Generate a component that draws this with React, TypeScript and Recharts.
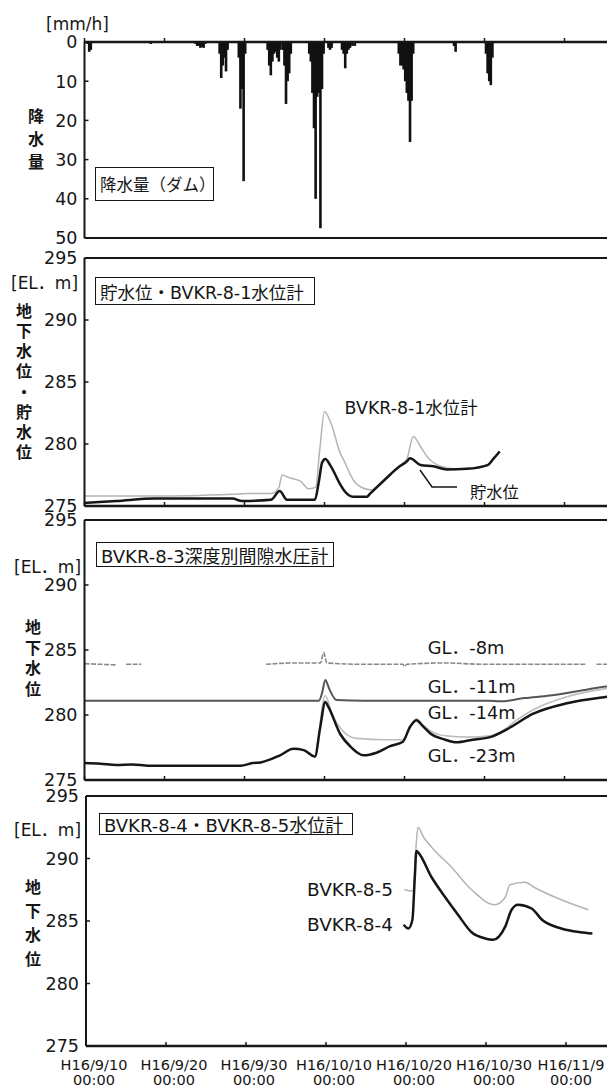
import React from 'react';
import { ComposedChart, Bar, Line, XAxis, YAxis, ReferenceLine } from 'recharts';

// ---------------- data ----------------
const xTickDays = [0, 10, 20, 30, 40, 50, 60];
const xTickDates = ['H16/9/10', 'H16/9/20', 'H16/9/30', 'H16/10/10', 'H16/10/20', 'H16/10/30', 'H16/11/9'];
const xTickTime = '00:00';
const rainTicks = [0, 10, 20, 30, 40, 50];
const levelTicks = [275, 280, 285, 290, 295];

// rainfall at the dam [mm/h], days after H16/9/10 00:00
const rainDays = [
  0.4, 0.6, 0.8,
  8.3,
  13.9, 14.1, 14.3, 14.5, 14.7, 14.9, 15.1,
  16.9, 17.1, 17.3, 17.5, 17.7, 17.9,
  19.3, 19.5, 19.7, 19.9, 20.1,
  22.9, 23.1, 23.3, 23.5, 23.7, 23.9, 24.1, 24.3, 24.5,
  24.8, 25.0, 25.2, 25.4, 25.6, 25.8,
  28.1, 28.3, 28.5, 28.7, 28.9, 29.1, 29.3, 29.5, 29.7, 29.9,
  30.5, 30.7, 30.9,
  32.2, 32.4, 32.6, 32.8, 33.0, 33.2, 33.5, 33.8,
  39.3, 39.5, 39.7, 39.9, 40.1, 40.3, 40.5, 40.7, 40.9, 41.1,
  46.2, 46.4,
  50.2, 50.4, 50.6, 50.8, 51.0,
];
const rainValues = [
  0.5, 2.5, 2.0,
  0.5,
  0.5, 1.0, 1.0, 1.5, 1.2, 1.5, 0.5,
  3, 9.2, 6, 4, 7.5, 2,
  4, 17, 12, 35.5, 3,
  2, 6, 8.5, 5, 3, 2.5, 4, 5, 2,
  2, 6, 15.8, 10, 8, 3,
  3, 5, 13, 22, 40, 14, 13, 47.5, 12, 3,
  1.5, 2, 1.5,
  2, 3, 6.7, 3, 2, 1.5, 1, 1,
  3, 6, 6, 7, 10, 13, 15, 25.5, 15, 3,
  1, 2.5,
  3, 8, 10, 11, 4,
];

// reservoir level (貯水位) [EL. m]
const resDays = [0, 4, 8.8, 14, 18.5, 19.7, 23.3, 24.4, 25.3, 28.8, 29.3, 29.7, 30.1, 30.8, 32.0, 32.4, 33.6, 35.3, 35.7, 37.5, 39.4, 40.3, 40.7, 42.0, 43.6, 45.3, 47.8, 50.4, 51.1, 51.9];
const resLevel = [275.25, 275.4, 275.6, 275.6, 275.6, 275.4, 275.5, 276.2, 275.5, 275.5, 277.0, 278.5, 278.8, 278.2, 276.7, 276.3, 275.75, 275.75, 276.0, 277.1, 278.2, 278.6, 278.85, 278.3, 278.2, 277.95, 278.0, 278.3, 278.8, 279.4];

// BVKR-8-1 water level gauge
const bv81Days = [0, 8.8, 18.5, 20.4, 23.3, 24.3, 24.7, 25.5, 27.0, 28.0, 28.9, 29.4, 30.0, 30.8, 32.0, 32.4, 33.6, 34.8, 35.9, 37.3, 39.3, 40.3, 41.1, 42.0, 42.8, 44.5, 46.1, 47.5, 50.4, 51.1, 51.9];
const bv81Level = [275.8, 275.8, 275.95, 276.0, 276.0, 276.5, 277.5, 277.3, 277.0, 276.4, 276.5, 279.5, 282.6, 281.7, 279.2, 278.7, 277.1, 276.45, 276.3, 277.0, 278.2, 278.8, 280.6, 279.8, 279.0, 278.2, 278.0, 278.0, 278.3, 278.8, 279.4];

// BVKR-8-3 piezometers by depth
const gl8Days = [0, 2, 4, 4.1, 5.2, 7.1, 7.2, 22.7, 26, 29.5, 29.9, 30.3, 35, 39.8, 40.0, 40.3, 45, 50, 55, 62.7, 62.8, 64, 69.5];
const gl8Level = [283.95, 283.9, 283.85, null, 283.9, 283.9, null, 283.9, 284.0, 284.0, 284.8, 284.0, 283.9, 283.9, 283.75, 283.9, 284.0, 283.9, 283.9, 283.9, null, 283.9, 283.9];

const gl11Days = [0, 29.3, 29.7, 30.1, 30.6, 31.5, 35, 45, 50.5, 52, 55, 58.2, 62.3, 65.3, 69.5];
const gl11Level = [281.1, 281.1, 281.7, 282.7, 282.0, 281.15, 281.1, 281.1, 281.1, 281.05, 281.3, 281.5, 281.9, 282.2, 282.3];

const gl14Days = [29.4, 30.1, 30.9, 32.4, 34.0, 37.8, 39.8, 40.7, 41.5, 42.2, 43.2, 45.1, 48.0, 50.7, 52.0, 54.0, 56.1, 60.3, 65.3, 69.5];
const gl14Level = [279.1, 281.5, 280.15, 278.7, 278.2, 278.1, 278.1, 279.1, 279.7, 279.3, 278.8, 278.4, 278.3, 278.4, 278.7, 279.6, 280.4, 281.4, 282.05, 282.3];

const gl23Days = [0, 2, 4, 6, 8, 12, 16, 19.5, 21, 22, 24.45, 26.1, 27.4, 28.8, 29.45, 30.1, 30.5, 32.0, 33.2, 34.9, 36.5, 38.2, 39.8, 40.7, 41.5, 42.2, 43.2, 45.1, 46.5, 48.5, 50.7, 52.8, 56.1, 60.3, 65.3, 69.5];
const gl23Level = [276.3, 276.25, 276.15, 276.2, 276.1, 276.1, 276.1, 276.1, 276.3, 276.35, 276.9, 277.4, 277.3, 276.8, 279.0, 281.0, 280.6, 278.5, 277.6, 276.9, 277.1, 277.6, 277.95, 279.1, 279.6, 279.2, 278.6, 278.1, 277.9, 278.1, 278.3, 278.9, 280.1, 280.9, 281.4, 281.7];

// BVKR-8-4 / BVKR-8-5 water level gauges
const bv84Days = [39.7, 40.3, 40.8, 41.1, 41.3, 41.5, 43.2, 44.9, 46.5, 48.2, 49.9, 50.9, 52.4, 53.2, 54.0, 55.7, 57.0, 59.4, 61.8, 63.3];
const bv84Level = [284.7, 284.4, 285.1, 288.5, 290.6, 290.5, 288.5, 286.9, 285.5, 284.1, 283.6, 283.5, 284.55, 285.9, 286.3, 286.0, 285.1, 284.4, 284.1, 284.0];

const bv85Days = [39.8, 40.9, 41.2, 41.5, 42.2, 43.2, 45.7, 48.2, 51.1, 52.4, 53.0, 54.9, 56.0, 59.4, 62.8];
const bv85Level = [287.5, 287.4, 290.5, 292.5, 291.7, 290.9, 289.3, 287.5, 286.3, 286.9, 287.9, 288.1, 287.7, 286.7, 285.9];

// ---------------- helpers ----------------
const zip = (days: number[], vals: (number | null)[]) => days.map((d, i) => ({ d, v: vals[i] }));
const rainData = zip(rainDays, rainValues);

const FONT = "'DejaVu Sans', 'Noto Sans CJK JP', sans-serif";
const INK = '#161616';
const W = 640;
const VIEW_W = 607;
const PX_PER_DAY = 8.0;

const renderXTick = (labels: boolean) => (props: any) => {
  const { x, y, payload } = props;
  const i = xTickDays.indexOf(payload.value);
  // keep the last label inside the visible page
  const lx = Math.min(x + 8, VIEW_W - 36);
  return (
    <g>
      <line x1={x} x2={x} y1={y} y2={y - 4} stroke={INK} strokeWidth={1.5} />
      {labels && (
        <text x={lx} y={y + 24} textAnchor="middle" fontSize={14.5} fontFamily={FONT} fill={INK}>
          {xTickDates[i]}
        </text>
      )}
      {labels && (
        <text x={lx} y={y + 38.5} textAnchor="middle" fontSize={14.5} fontFamily={FONT} fill={INK}>
          {xTickTime}
        </text>
      )}
    </g>
  );
};

const renderYTick = (props: any) => {
  const { x, y, payload } = props;
  return (
    <g>
      <line x1={x} x2={x + 4} y1={y} y2={y} stroke={INK} strokeWidth={1.5} />
      <text x={x - 7} y={y} dy="0.36em" textAnchor="end" fontSize={17.5} fontFamily={FONT} fill={INK}>
        {payload.value}
      </text>
    </g>
  );
};

// rain bar: centered on the scaled x position, fixed 2.6px wide
const RainBar = (props: any) => {
  const { x, y, width, height } = props;
  if (x == null || y == null) return null;
  const cx = x + width / 2;
  const top = Math.min(y, y + height);
  const h = Math.abs(height);
  return <rect x={cx - 1.3} y={top} width={2.6} height={h} fill="#111" />;
};

type PanelProps = {
  top: number;
  bottom: number;
  axisX: number;
  yDomain: [number, number];
  yTicks: number[];
  reversed?: boolean;
  xOnTop?: boolean;
  xLabels?: boolean;
  borderY: number;
  data?: any[];
  children?: React.ReactNode;
};

function Panel(p: PanelProps) {
  const MT = 14;
  const MB = p.xLabels ? 50 : 14;
  const AXH = 1;
  const h = p.bottom - p.top + MT + MB;
  const xMax = (W - p.axisX) / PX_PER_DAY;
  const margin = p.xOnTop
    ? { top: MT - AXH, right: 0, bottom: MB, left: 0 }
    : { top: MT, right: 0, bottom: MB - AXH, left: 0 };
  return (
    <div style={{ position: 'absolute', left: 0, top: p.top - MT }}>
      <ComposedChart width={W} height={h} data={p.data} margin={margin}>
        <XAxis
          type="number"
          dataKey="d"
          domain={[0, xMax]}
          ticks={xTickDays}
          interval={0}
          allowDataOverflow
          orientation={p.xOnTop ? 'top' : 'bottom'}
          height={AXH}
          axisLine={{ stroke: INK, strokeWidth: 2.5 }}
          tickLine={false}
          tickSize={0}
          tickMargin={0}
          tick={renderXTick(!!p.xLabels)}
        />
        <YAxis
          type="number"
          domain={p.yDomain}
          ticks={p.yTicks}
          interval={0}
          reversed={p.reversed}
          width={p.axisX}
          allowDataOverflow
          axisLine={{ stroke: INK, strokeWidth: 2 }}
          tickLine={false}
          tickSize={0}
          tickMargin={0}
          tick={renderYTick}
        />
        <ReferenceLine y={p.borderY} stroke={INK} strokeWidth={2} />
        {p.children}
      </ComposedChart>
    </div>
  );
}

const lineProps = { dataKey: 'v', dot: false, isAnimationActive: false, type: 'monotone' as const, connectNulls: false };

function VText({ chars, cx, cy0, step, size }: { chars: string; cx: number; cy0: number; step: number; size: number }) {
  return (
    <>
      {Array.from(chars).map((c, i) => (
        <div
          key={i}
          style={{
            position: 'absolute',
            left: cx - size / 2 - 2,
            top: cy0 + i * step - size / 2 - 2,
            width: size + 4,
            height: size + 4,
            lineHeight: `${size + 4}px`,
            textAlign: 'center',
            fontSize: size,
            fontFamily: FONT,
            fontWeight: 700,
            color: INK,
          }}
        >
          {c}
        </div>
      ))}
    </>
  );
}

function Label({ text, x, cy, size = 17, align = 'left' }: { text: string; x: number; cy: number; size?: number; align?: 'left' | 'right' }) {
  const w = 200;
  return (
    <div
      style={{
        position: 'absolute',
        left: align === 'left' ? x : x - w,
        width: w,
        top: cy - 11,
        height: 22,
        lineHeight: '22px',
        fontSize: size,
        fontFamily: FONT,
        color: INK,
        whiteSpace: 'nowrap',
        textAlign: align,
      }}
    >
      {text}
    </div>
  );
}

function Box({ text, l, t, w, h, size = 17 }: { text: string; l: number; t: number; w: number; h: number; size?: number }) {
  return (
    <div
      style={{
        position: 'absolute',
        left: l,
        top: t,
        width: w,
        height: h,
        boxSizing: 'border-box',
        border: `1.5px solid ${INK}`,
        background: '#fff',
        display: 'flex',
        alignItems: 'center',
        paddingLeft: 4,
        fontSize: size,
        fontFamily: FONT,
        color: INK,
        whiteSpace: 'nowrap',
        overflow: 'hidden',
      }}
    >
      {text}
    </div>
  );
}

export default function App() {
  return (
    <div style={{ position: 'absolute', left: 0, top: 0, width: 607, height: 1088, overflow: 'hidden', background: '#fff' }}>
      {/* Panel 1: rainfall */}
      <Panel top={42} bottom={238} axisX={84.5} yDomain={[0, 50]} yTicks={rainTicks} reversed xOnTop borderY={50} data={rainData}>
        <Bar dataKey="v" fill="#111" barSize={3} shape={RainBar} isAnimationActive={false} />
      </Panel>

      {/* Panel 2: reservoir & BVKR-8-1 */}
      <Panel top={258} bottom={506} axisX={84.5} yDomain={[275, 295]} yTicks={levelTicks} borderY={295}>
        <Line {...lineProps} data={zip(bv81Days, bv81Level)} stroke="#b4b4b4" strokeWidth={1.5} />
        <Line {...lineProps} data={zip(resDays, resLevel)} stroke={INK} strokeWidth={2.5} />
      </Panel>

      {/* Panel 3: BVKR-8-3 piezometers */}
      <Panel top={520} bottom={780} axisX={84.5} yDomain={[275, 295]} yTicks={levelTicks} borderY={295}>
        <Line {...lineProps} data={zip(gl8Days, gl8Level)} stroke="#8a8a8a" strokeWidth={1.6} strokeDasharray="5 1.5" />
        <Line {...lineProps} data={zip(gl11Days, gl11Level)} stroke="#555" strokeWidth={2} />
        <Line {...lineProps} data={zip(gl14Days, gl14Level)} stroke="#bdbdbd" strokeWidth={1.6} />
        <Line {...lineProps} data={zip(gl23Days, gl23Level)} stroke={INK} strokeWidth={2.5} />
      </Panel>

      {/* Panel 4: BVKR-8-4 / 8-5 */}
      <Panel top={796} bottom={1046} axisX={86} yDomain={[275, 295]} yTicks={levelTicks} borderY={295} xLabels>
        <Line {...lineProps} data={zip(bv85Days, bv85Level)} stroke="#b4b4b4" strokeWidth={1.5} />
        <Line {...lineProps} data={zip(bv84Days, bv84Level)} stroke={INK} strokeWidth={2.5} />
      </Panel>

      {/* units */}
      <Label text="[mm/h]" x={46} cy={24} />
      <Label text="[EL．m]" x={11} cy={283} />
      <Label text="[EL．m]" x={14} cy={566.7} />
      <Label text="[EL．m]" x={14} cy={830} />

      {/* vertical axis titles */}
      <VText chars="降水量" cx={36} cy0={117} step={23} size={16} />
      <VText chars="地下水位・貯水位" cx={24} cy0={311.7} step={20.2} size={16} />
      <VText chars="地下水位" cx={33} cy0={628} step={20.7} size={16} />
      <VText chars="地下水位" cx={33} cy0={888} step={24} size={16} />

      {/* panel titles */}
      <Box text="降水量（ダム）" l={95} t={167} w={119} h={34} size={16.5} />
      <Box text="貯水位・BVKR-8-1水位計" l={95} t={277} w={220} h={28} size={17.5} />
      <Box text="BVKR-8-3深度別間隙水圧計" l={96} t={542} w={238} h={25} size={18} />
      <Box text="BVKR-8-4・BVKR-8-5水位計" l={99} t={813} w={254} h={22} size={18} />

      {/* annotations */}
      <Label text="BVKR-8-1水位計" x={344.6} cy={408} size={17.4} />
      <Label text="貯水位" x={470} cy={493} size={16.3} />
      <svg style={{ position: 'absolute', left: 0, top: 0 }} width={607} height={1088}>
        <polyline points="420,470 432,487 457,487" fill="none" stroke={INK} strokeWidth={1.5} />
      </svg>
      <Label text="GL．-8m" x={427.8} cy={648} size={17.8} />
      <Label text="GL．-11m" x={427.8} cy={687} size={17.8} />
      <Label text="GL．-14m" x={427.8} cy={713} size={17.8} />
      <Label text="GL．-23m" x={427.8} cy={756} size={17.8} />
      <Label text="BVKR-8-5" x={393} cy={890} align="right" size={18.5} />
      <Label text="BVKR-8-4" x={393} cy={925} align="right" size={18.5} />
    </div>
  );
}
